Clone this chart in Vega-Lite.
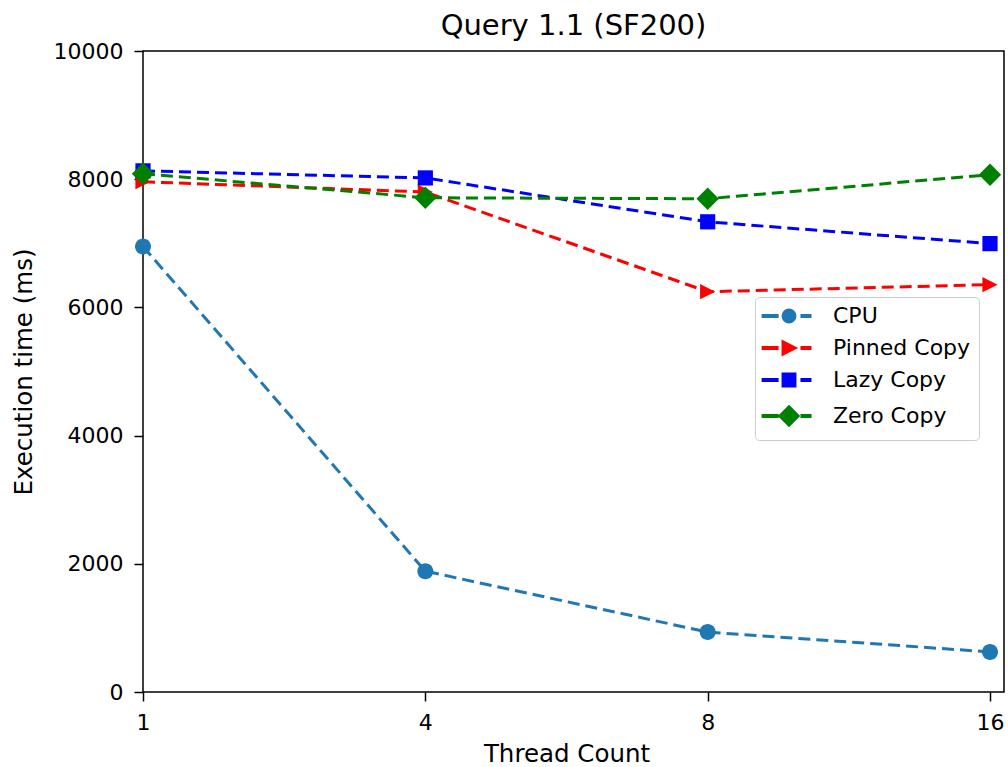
{
  "$schema": "https://vega.github.io/schema/vega-lite/v6.json",
  "width": 861,
  "height": 641,
  "autosize": {"type": "none"},
  "padding": {"left": 143, "top": 51, "right": 4, "bottom": 75},
  "background": "white",
  "config": {
    "font": "DejaVu Sans",
    "view": {"stroke": "black", "strokeWidth": 1.5},
    "axis": {"grid": false, "domain": false, "tickColor": "black", "tickWidth": 1.5, "tickSize": 9, "labelFontSize": 22, "labelColor": "black", "titleFontSize": 24.5, "titleFontWeight": "normal", "titleColor": "black"}
  },
  "title": {"text": "Query 1.1 (SF200)", "fontSize": 29, "fontWeight": "normal", "color": "black", "offset": -1},
  "data": {"values": [
    {"threads": 1, "series": "CPU", "time": 6950},
    {"threads": 4, "series": "CPU", "time": 1885},
    {"threads": 8, "series": "CPU", "time": 935},
    {"threads": 16, "series": "CPU", "time": 625},
    {"threads": 1, "series": "Pinned Copy", "time": 7960},
    {"threads": 4, "series": "Pinned Copy", "time": 7800},
    {"threads": 8, "series": "Pinned Copy", "time": 6245},
    {"threads": 16, "series": "Pinned Copy", "time": 6355},
    {"threads": 1, "series": "Lazy Copy", "time": 8130},
    {"threads": 4, "series": "Lazy Copy", "time": 8020},
    {"threads": 8, "series": "Lazy Copy", "time": 7335},
    {"threads": 16, "series": "Lazy Copy", "time": 6995},
    {"threads": 1, "series": "Zero Copy", "time": 8085},
    {"threads": 4, "series": "Zero Copy", "time": 7710},
    {"threads": 8, "series": "Zero Copy", "time": 7695},
    {"threads": 16, "series": "Zero Copy", "time": 8070}
  ]},
  "encoding": {
    "x": {"field": "threads", "type": "ordinal", "scale": {"type": "point", "padding": 0, "range": [0, 847]},
      "axis": {"title": "Thread Count", "labelAngle": 0, "labelPadding": 11, "titlePadding": 9}},
    "y": {"field": "time", "type": "quantitative", "scale": {"domain": [0, 10000], "nice": false},
      "axis": {"title": "Execution time (ms)", "values": [0, 2000, 4000, 6000, 8000, 10000], "format": "d", "labelPadding": 11, "titlePadding": 17}},
    "color": {"field": "series", "type": "nominal",
      "scale": {"domain": ["CPU", "Pinned Copy", "Lazy Copy", "Zero Copy"], "range": ["#1f77b4", "#ff0000", "#0000ff", "#008000"]},
      "legend": {
        "title": null, "orient": "none", "legendX": 612, "legendY": 246,
        "padding": 8, "fillColor": "white", "strokeColor": "#cccccc", "cornerRadius": 4,
        "labelFontSize": 22, "labelColor": "black", "symbolSize": 196, "symbolStrokeWidth": 3, "symbolOpacity": 1,
        "symbolOffset": 15, "labelOffset": 33, "rowPadding": 8
      }}
  },
  "layer": [
    {
      "mark": {"type": "line", "strokeDash": [12, 6], "strokeWidth": 3}
    },
    {
      "mark": {"type": "point", "filled": true, "opacity": 0, "size": 196},
      "encoding": {
        "shape": {"field": "series", "type": "nominal", "legend": null,
          "scale": {"domain": ["CPU", "Pinned Copy", "Lazy Copy", "Zero Copy"],
            "range": [
              "M0.85,0A0.85,0.85,0,1,1,-0.85,0A0.85,0.85,0,1,1,0.85,0ZM-3.7,-0.08H-1.7V0.08H-3.7ZM1.85,-0.08H3.0V0.08H1.85Z",
              "M0.85,0L-0.85,0.85L-0.85,-0.85ZM-3.7,-0.08H-1.7V0.08H-3.7ZM1.85,-0.08H3.0V0.08H1.85Z",
              "M-0.85,-0.85H0.85V0.85H-0.85ZM-3.7,-0.08H-1.7V0.08H-3.7ZM1.85,-0.08H3.0V0.08H1.85Z",
              "M0,-1.3L1.3,0L0,1.3L-1.3,0ZM-3.7,-0.08H-1.7V0.08H-3.7ZM1.85,-0.08H3.0V0.08H1.85Z"
            ]}}
      }
    },
    {
      "transform": [{"filter": {"field": "series", "equal": "CPU"}}],
      "mark": {"type": "point", "filled": true, "opacity": 1, "size": 256, "shape": "M1,0A1,1,0,1,1,-1,0A1,1,0,1,1,1,0Z"}
    },
    {
      "transform": [{"filter": {"field": "series", "equal": "Pinned Copy"}}],
      "mark": {"type": "point", "filled": true, "opacity": 1, "size": 256, "shape": "M0.95,0L-0.95,0.95L-0.95,-0.95Z"}
    },
    {
      "transform": [{"filter": {"field": "series", "equal": "Lazy Copy"}}],
      "mark": {"type": "point", "filled": true, "opacity": 1, "size": 256, "shape": "M-0.95,-0.95H0.95V0.95H-0.95Z"}
    },
    {
      "transform": [{"filter": {"field": "series", "equal": "Zero Copy"}}],
      "mark": {"type": "point", "filled": true, "opacity": 1, "size": 256, "shape": "M0,-1.4L1.4,0L0,1.4L-1.4,0Z"}
    }
  ]
}
